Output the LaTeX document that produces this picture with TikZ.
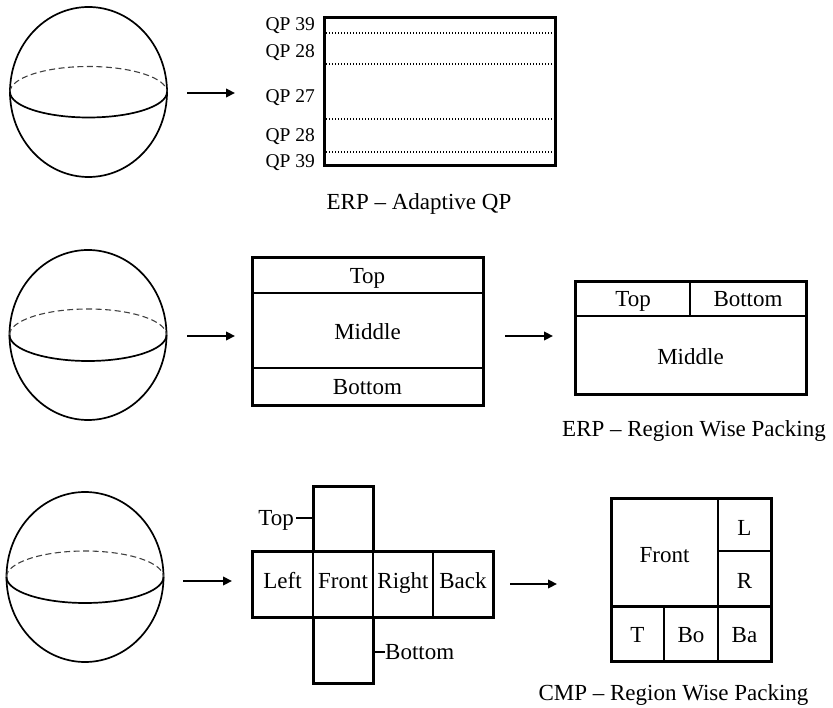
\documentclass[tikz,border=0pt]{standalone}
\usepackage{fontspec}
\setmainfont{Liberation Serif}
\usetikzlibrary{arrows.meta,shapes.geometric}

% sphere with a dashed back half and a solid front half of its equator
\newcommand\globeat[4]{% name, cx, cy, equator y radius
  \node[ball] (#1) at (#2,#3) {};
  \draw[eqback] ([xshift=-78.5pt]#1.center) arc[start angle=180, end angle=0, x radius=78.5pt, y radius=#4];
  \draw[eqfront] ([xshift=-78.5pt]#1.center) arc[start angle=180, end angle=360, x radius=78.5pt, y radius=#4];
}

\begin{document}
\begin{tikzpicture}[x=1pt,y=-1pt,
  ball/.style={draw, ellipse, line width=1.7pt, inner sep=0pt, minimum width=157pt, minimum height=170pt},
  eqback/.style={line width=1.1pt, black!75, dash pattern=on 6pt off 3.5pt},
  eqfront/.style={line width=1.7pt},
  frame/.style={line width=3pt},
  divider/.style={line width=2.6pt},
  qpline/.style={line width=1.6pt, dash pattern=on 1.4pt off 1.6pt},
  arr/.style={line width=2.8pt, -{Triangle[length=9pt,width=8.5pt]}},
  tickline/.style={line width=1.2pt},
  lbl/.style={anchor=base, inner sep=0pt, font=\fontsize{23}{27}\selectfont},
  qp/.style={anchor=base east, inner sep=0pt, font=\fontsize{19.5}{22}\selectfont},
  caption/.style={anchor=base, inner sep=0pt, font=\fontsize{23}{27}\selectfont}]

\useasboundingbox (0,0) rectangle (833,708);

% ---------- row 1: ERP with adaptive QP ----------
\globeat{g1}{88.5}{92}{25.5pt}
\coordinate (a1s) at (187,93);
\coordinate (a1e) at (235,93);
\draw[arr] (a1s) -- (a1e);

\draw[frame] (324,18) rectangle (555,166);
\foreach \y in {33,64,119,152}
  \draw[qpline] (326,\y) -- (553,\y);
\node[qp] (qpa) at (315,30.5) {QP 39};
\node[qp] (qpb) at (315,58) {QP 28};
\node[qp] (qpc) at (315,103) {QP 27};
\node[qp] (qpd) at (315,142) {QP 28};
\node[qp] (qpe) at (315,168) {QP 39};
\node[caption] (cap1) at (419,210) {ERP – Adaptive QP};

% ---------- row 2: ERP region wise packing ----------
\globeat{g2}{88}{335}{26pt}
\coordinate (a2s) at (187,336);
\coordinate (a2e) at (235,336);
\draw[arr] (a2s) -- (a2e);

\draw[frame] (252,258) rectangle (483,406);
\draw[divider] (252,293) -- (483,293);
\draw[divider] (252,368) -- (483,368);
\node[lbl] (e2top) at (367.5,284) {Top};
\node[lbl] (e2mid) at (367.5,340) {Middle};
\node[lbl] (e2bot) at (367.5,395) {Bottom};

\coordinate (a3s) at (505,336);
\coordinate (a3e) at (553,336);
\draw[arr] (a3s) -- (a3e);

\draw[frame] (575,282) rectangle (806,395);
\draw[divider] (575,316) -- (806,316);
\draw[divider] (690,282) -- (690,316);
\node[lbl] (p2top) at (633,307) {Top};
\node[lbl] (p2bot) at (748,307) {Bottom};
\node[lbl] (p2mid) at (690.5,365) {Middle};
\node[caption] (cap2) at (694,437) {ERP – Region Wise Packing};

% ---------- row 3: cube map region wise packing ----------
\globeat{g3}{85}{577}{26pt}
\coordinate (a4s) at (183,581);
\coordinate (a4e) at (232,581);
\draw[arr] (a4s) -- (a4e);

% cube net
\draw[frame] (313,551) -- (313,486) -- (373,486) -- (373,551);
\draw[frame] (252,551) rectangle (493,617);
\draw[frame] (313,617) -- (313,683) -- (373,683) -- (373,617);
\draw[divider] (313,551) -- (313,617);
\draw[divider] (373,551) -- (373,617);
\draw[divider] (433,551) -- (433,617);
\node[lbl] (nleft) at (282.5,588) {Left};
\node[lbl] (nfront) at (343,588) {Front};
\node[lbl] (nright) at (403,588) {Right};
\node[lbl] (nback) at (463,588) {Back};
\node[lbl, anchor=base east] (ntop) at (294,525) {Top};
\draw[tickline] (296,518) -- (313,518);
\node[lbl, anchor=base west] (nbot) at (385,659) {Bottom};
\draw[tickline] (373,652) -- (385,652);

\coordinate (a5s) at (510,584);
\coordinate (a5e) at (557,584);
\draw[arr] (a5s) -- (a5e);

% packed cube map
\draw[frame] (611,498) rectangle (771,661);
\draw[divider] (718,498) -- (718,661);
\draw[divider] (718,551) -- (771,551);
\draw[frame] (611,606) -- (771,606);
\draw[divider] (664,606) -- (664,661);
\node[lbl] (cfront) at (664.5,562) {Front};
\node[lbl] (cl) at (744.5,535) {L};
\node[lbl] (cr) at (744.5,588) {R};
\node[lbl] (ct) at (637.5,642) {T};
\node[lbl] (cbo) at (691,642) {Bo};
\node[lbl] (cba) at (744.5,642) {Ba};
\node[caption] (cap3) at (673.5,700) {CMP – Region Wise Packing};

\end{tikzpicture}
\end{document}
